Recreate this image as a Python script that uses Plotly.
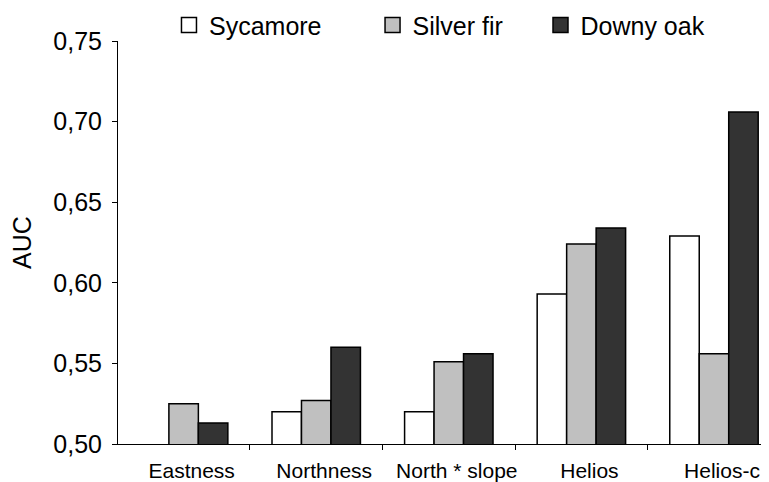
import plotly.graph_objects as go

categories = ["Eastness", "Northness", "North * slope", "Helios", "Helios-c"]
sycamore = [None, 0.520, 0.520, 0.593, 0.629]
silver_fir = [0.525, 0.527, 0.551, 0.624, 0.556]
downy_oak = [0.513, 0.560, 0.556, 0.634, 0.706]
y_ticks = [0.50, 0.55, 0.60, 0.65, 0.70, 0.75]

FONT = "Liberation Sans, Arial, sans-serif"

fig = go.Figure()
series = [
    ("Sycamore", sycamore, "#ffffff", "legend"),
    ("Silver fir", silver_fir, "#c0c0c0", "legend2"),
    ("Downy oak", downy_oak, "#333333", "legend3"),
]
for name, vals, color, lg in series:
    fig.add_trace(go.Bar(
        x=categories, y=vals, name=name, showlegend=False,
        marker=dict(color=color, line=dict(color="#000000", width=1.5)),
    ))
    # legend-only entry with a larger square swatch
    fig.add_trace(go.Scatter(
        x=[None], y=[None], mode="markers", name=name, legend=lg,
        marker=dict(symbol="square", size=15, color=color,
                    line=dict(color="#000000", width=1.5)),
        hoverinfo="skip",
    ))

leg_common = dict(orientation="h", yanchor="middle", xanchor="left", y=1.039,
                  bgcolor="rgba(0,0,0,0)", borderwidth=0, itemsizing="trace",
                  font=dict(family=FONT, size=25, color="#000000"))

fig.update_layout(
    width=761, height=474,
    margin=dict(l=110, r=0, t=33, b=38, autoexpand=False),
    paper_bgcolor="#ffffff", plot_bgcolor="#ffffff",
    separators=",.",
    barmode="group", bargap=0.333, bargroupgap=0,
    font=dict(family=FONT, color="#000000"),
    showlegend=True,
    legend=dict(x=0.0783, **leg_common),
    legend2=dict(x=0.391, **leg_common),
    legend3=dict(x=0.649, **leg_common),
    xaxis=dict(
        type="category", range=[-0.495, 4.415],
        showline=True, linecolor="#000000", linewidth=1,
        ticks="outside", tickson="boundaries", ticklen=5, tickcolor="#000000",
        tickfont=dict(family=FONT, size=21, color="#000000"),
        ticklabelshift=8, ticklabelstandoff=8,
        showgrid=False, zeroline=False,
    ),
    yaxis=dict(
        range=[0.5, 0.75], tickvals=y_ticks, tickformat=".2f",
        showline=True, linecolor="#000000", linewidth=1,
        ticks="outside", ticklen=5, tickcolor="#000000",
        tickfont=dict(family=FONT, size=25, color="#000000"),
        ticklabelstandoff=5,
        showgrid=False, zeroline=False,
        title=dict(text="AUC", font=dict(family=FONT, size=25, color="#000000"), standoff=14),
    ),
)

fig.write_html("out.html")
